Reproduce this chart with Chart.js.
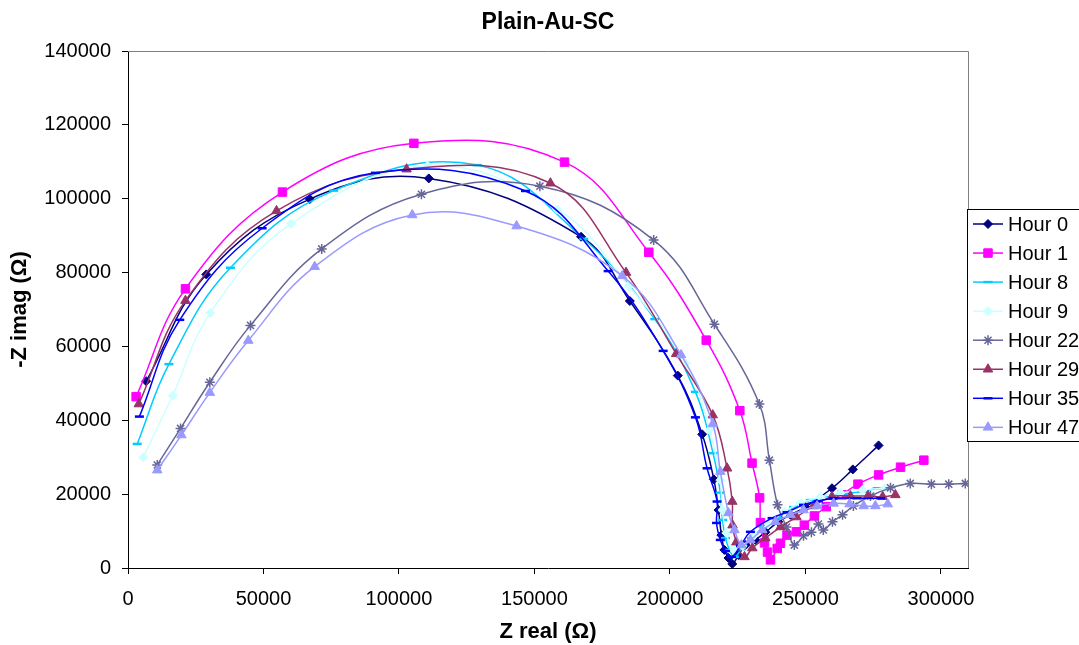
<!DOCTYPE html>
<html>
<head>
<meta charset="utf-8">
<title>Plain-Au-SC</title>
<script src="https://cdn.jsdelivr.net/npm/chart.js@4.4.1/dist/chart.umd.min.js"></script>
<style>
  html, body { margin: 0; padding: 0; background: #fff; overflow: hidden; }
  canvas { display: block; }
</style>
</head>
<body>
<canvas id="nyquist" width="1079" height="645"></canvas>
<script>
// Text
const chartTitle = 'Plain-Au-SC';
const xAxisTitle = 'Z real (Ω)';
const yAxisTitle = '-Z imag (Ω)';
const seriesNames = ['Hour 0', 'Hour 1', 'Hour 8', 'Hour 9', 'Hour 22', 'Hour 29', 'Hour 35', 'Hour 47'];

// Axis ticks
const xTicks = [0, 50000, 100000, 150000, 200000, 250000, 300000];
const yTicks = [0, 20000, 40000, 60000, 80000, 100000, 120000, 140000];

// Impedance data: real part (Ω) and negative imaginary part (Ω)
const hour0Real = [6700, 28900, 67100, 111000, 167200, 185200, 202900, 211900, 216200, 217900, 219000, 220100, 221600, 223000, 225300, 227900, 231500, 235200, 240000, 244500, 250000, 259800, 267500, 277000];
const hour0Imag = [50600, 79500, 99900, 105500, 89700, 72300, 52100, 36200, 24000, 15700, 8900, 4900, 2700, 1100, 3500, 6200, 7600, 9700, 12500, 14400, 16500, 21600, 26700, 33200];

const hour1Real = [3000, 21200, 57000, 105500, 161100, 192200, 213400, 225800, 230300, 233100, 233400, 234900, 236000, 237100, 239600, 240800, 243200, 246700, 249600, 253300, 257700, 263500, 269400, 277000, 285100, 293700];
const hour1Imag = [46400, 75600, 101800, 115000, 109900, 85500, 61700, 42600, 28400, 19000, 12300, 6800, 4300, 2200, 5300, 6700, 8900, 9800, 11600, 14100, 16600, 19800, 22700, 25200, 27300, 29200];

const hour8Real = [3400, 15100, 37800, 75900, 128900, 168200, 194400, 209400, 215900, 218600, 219400, 220500, 222000, 223800, 226400, 230100, 234500, 239700, 245600, 251800, 258500, 265400, 270900, 276500];
const hour8Imag = [33600, 55200, 81300, 102200, 109100, 89100, 67400, 47700, 31100, 20400, 13000, 8100, 4900, 3000, 5100, 8100, 11100, 13500, 16500, 18400, 19500, 20200, 20700, 21600];

const hour9Real = [5600, 16500, 30400, 60200, 110600, 158400, 184800, 206000, 214600, 218600, 219300, 220800, 223400, 226800, 231200, 236300, 242200, 248200, 255500, 262900, 271000, 279300];
const hour9Imag = [30000, 46700, 69100, 93200, 108900, 97100, 76400, 55400, 37400, 23800, 15700, 9500, 4900, 6000, 8900, 11900, 15200, 17600, 19200, 20300, 21100, 21600];

const hour22Real = [10800, 19400, 30200, 45200, 71500, 108300, 152000, 194000, 216400, 233000, 236700, 239700, 243000, 245900, 249300, 252200, 254800, 256600, 260000, 263700, 267700, 274000, 281400, 288700, 296500, 302900, 309000];
const hour22Imag = [27900, 37800, 50300, 65700, 86400, 101200, 103400, 88800, 66000, 44400, 29200, 17100, 11100, 6200, 8700, 9700, 11900, 10300, 12500, 14400, 16800, 19500, 21700, 22900, 22700, 22700, 22900];

const hour29Real = [4000, 21200, 54800, 102800, 155900, 183800, 202300, 215800, 221100, 223000, 223100, 224500, 227500, 230400, 235200, 240800, 246700, 253000, 259800, 266600, 273100, 278500, 283200];
const hour29Imag = [44400, 72400, 96700, 108000, 104200, 80000, 58000, 41400, 27000, 18000, 11600, 7000, 3000, 5400, 8100, 11100, 13800, 16800, 19300, 19500, 19500, 19300, 19800];

const hour35Real = [4200, 19100, 49500, 91300, 146700, 177200, 197500, 209400, 213700, 217400, 217200, 218600, 220500, 222700, 226000, 229700, 237700, 243200, 249300, 254800, 260400, 269100, 277700];
const hour35Imag = [41000, 67200, 92000, 107000, 102100, 80400, 58800, 40800, 27000, 18000, 12200, 7600, 4600, 3000, 6000, 9800, 13500, 15100, 17100, 18100, 18900, 18900, 18900];

const hour47Real = [10800, 19700, 30200, 44400, 68900, 104900, 143400, 182400, 204100, 215800, 218600, 221600, 223800, 226400, 229700, 234100, 238900, 244500, 249300, 254300, 260400, 266300, 271500, 275800, 280400];
const hour47Imag = [26500, 36000, 47500, 61600, 81600, 95600, 92600, 79100, 57700, 39000, 26100, 14900, 10300, 6200, 7600, 10300, 12500, 14400, 15700, 16800, 17500, 17300, 16800, 16800, 17300];

// Series styling
const seriesColors = ['#000080', '#FF00FF', '#00CCFF', '#CCFFFF', '#666699', '#993366', '#0000FF', '#9999FF'];
const seriesMarkers = ['rectRot', 'rect', 'line', 'rectRot', 'star', 'triangle', 'line', 'triangle'];
const markerRadius = { rectRot: 4.5, rect: 6, line: 4.5, star: 5, triangle: 5.5 };
const markerBorder = { rectRot: 1, rect: 1, line: 2.5, star: 1.5, triangle: 1 };

const seriesReal = [hour0Real, hour1Real, hour8Real, hour9Real, hour22Real, hour29Real, hour35Real, hour47Real];
const seriesImag = [hour0Imag, hour1Imag, hour8Imag, hour9Imag, hour22Imag, hour29Imag, hour35Imag, hour47Imag];

const datasets = seriesNames.map((name, i) => {
  const style = seriesMarkers[i];
  return {
    label: name,
    data: seriesReal[i].map((x, j) => ({ x: x, y: seriesImag[i][j] })),
    showLine: true,
    tension: 0.4,
    borderColor: seriesColors[i],
    backgroundColor: seriesColors[i],
    borderWidth: 1.5,
    pointStyle: style,
    pointRadius: markerRadius[style],
    pointHoverRadius: markerRadius[style],
    pointBorderWidth: markerBorder[style],
    pointBackgroundColor: seriesColors[i],
    pointBorderColor: seriesColors[i],
    order: -i
  };
});

const FONT = '"Liberation Sans", Arial, Helvetica, sans-serif';
Chart.defaults.font.family = FONT;
Chart.defaults.color = '#000';

// Plot frame (top/right), chart title and the boxed legend on the right
const decorations = {
  id: 'decorations',
  beforeDatasetsDraw(chart) {
    const ctx = chart.ctx, a = chart.chartArea;
    ctx.save();
    ctx.strokeStyle = '#808080';
    ctx.lineWidth = 1;
    ctx.beginPath();
    ctx.moveTo(a.left, a.top + 0.5);
    ctx.lineTo(a.right + 0.5, a.top + 0.5);
    ctx.lineTo(a.right + 0.5, a.bottom);
    ctx.stroke();
    ctx.restore();
  },
  afterDraw(chart) {
    const ctx = chart.ctx, a = chart.chartArea;
    ctx.save();
    ctx.fillStyle = '#000';
    ctx.font = 'bold 23px ' + FONT;
    ctx.textAlign = 'center';
    ctx.textBaseline = 'middle';
    ctx.fillText(chartTitle, (a.left + a.right) / 2, 23);

    const boxLeft = 967, boxTop = 209, boxHeight = 232;
    ctx.fillStyle = '#fff';
    ctx.fillRect(boxLeft, boxTop, chart.width - boxLeft + 10, boxHeight);
    ctx.strokeStyle = '#000';
    ctx.lineWidth = 1;
    ctx.strokeRect(boxLeft + 0.5, boxTop + 0.5, chart.width, boxHeight);

    ctx.font = '20px ' + FONT;
    ctx.textAlign = 'left';
    ctx.textBaseline = 'middle';
    chart.data.datasets.forEach((ds, i) => {
      const y = 224 + i * 29.05;
      ctx.strokeStyle = ds.borderColor;
      ctx.lineWidth = 1.5;
      ctx.beginPath();
      ctx.moveTo(973, y);
      ctx.lineTo(1003, y);
      ctx.stroke();
      ctx.fillStyle = ds.pointBackgroundColor;
      ctx.strokeStyle = ds.pointBorderColor;
      ctx.lineWidth = ds.pointBorderWidth;
      Chart.helpers.drawPoint(ctx, { pointStyle: ds.pointStyle, radius: ds.pointRadius, rotation: 0, borderWidth: ds.pointBorderWidth }, 988, y);
      ctx.fillStyle = '#000';
      ctx.fillText(ds.label, 1008, y + 1);
    });
    ctx.restore();
  }
};

new Chart(document.getElementById('nyquist'), {
  type: 'scatter',
  data: { datasets: datasets },
  plugins: [decorations],
  options: {
    responsive: false,
    animation: false,
    events: [],
    layout: { padding: { left: 0, top: 51, right: 111, bottom: 0 } },
    plugins: {
      legend: { display: false },
      title: { display: false },
      tooltip: { enabled: false }
    },
    scales: {
      x: {
        type: 'linear',
        min: 0,
        max: 310000,
        afterBuildTicks: (scale) => { scale.ticks = xTicks.map(v => ({ value: v })); },
        afterFit: (scale) => { scale.height = 77; },
        ticks: {
          font: { size: 20 },
          color: '#000',
          padding: 13,
          maxRotation: 0,
          autoSkip: false,
          callback: (v) => String(v)
        },
        grid: { drawOnChartArea: false, drawTicks: true, tickLength: 6, color: '#000' },
        border: { display: true, color: '#000', width: 1 },
        title: {
          display: true,
          text: xAxisTitle,
          font: { size: 22, weight: 'bold' },
          color: '#000',
          padding: { top: 0, bottom: 0 }
        }
      },
      y: {
        type: 'linear',
        min: 0,
        max: 140000,
        afterBuildTicks: (scale) => { scale.ticks = yTicks.map(v => ({ value: v })); },
        afterFit: (scale) => { scale.width = 128; },
        ticks: {
          font: { size: 20 },
          color: '#000',
          padding: 11,
          autoSkip: false,
          callback: (v) => String(v)
        },
        grid: { drawOnChartArea: false, drawTicks: true, tickLength: 6, color: '#000' },
        border: { display: true, color: '#000', width: 1 },
        title: {
          display: true,
          text: yAxisTitle,
          font: { size: 22, weight: 'bold' },
          color: '#000',
          padding: { top: 7, bottom: 0 }
        }
      }
    }
  }
});
</script>
</body>
</html>
